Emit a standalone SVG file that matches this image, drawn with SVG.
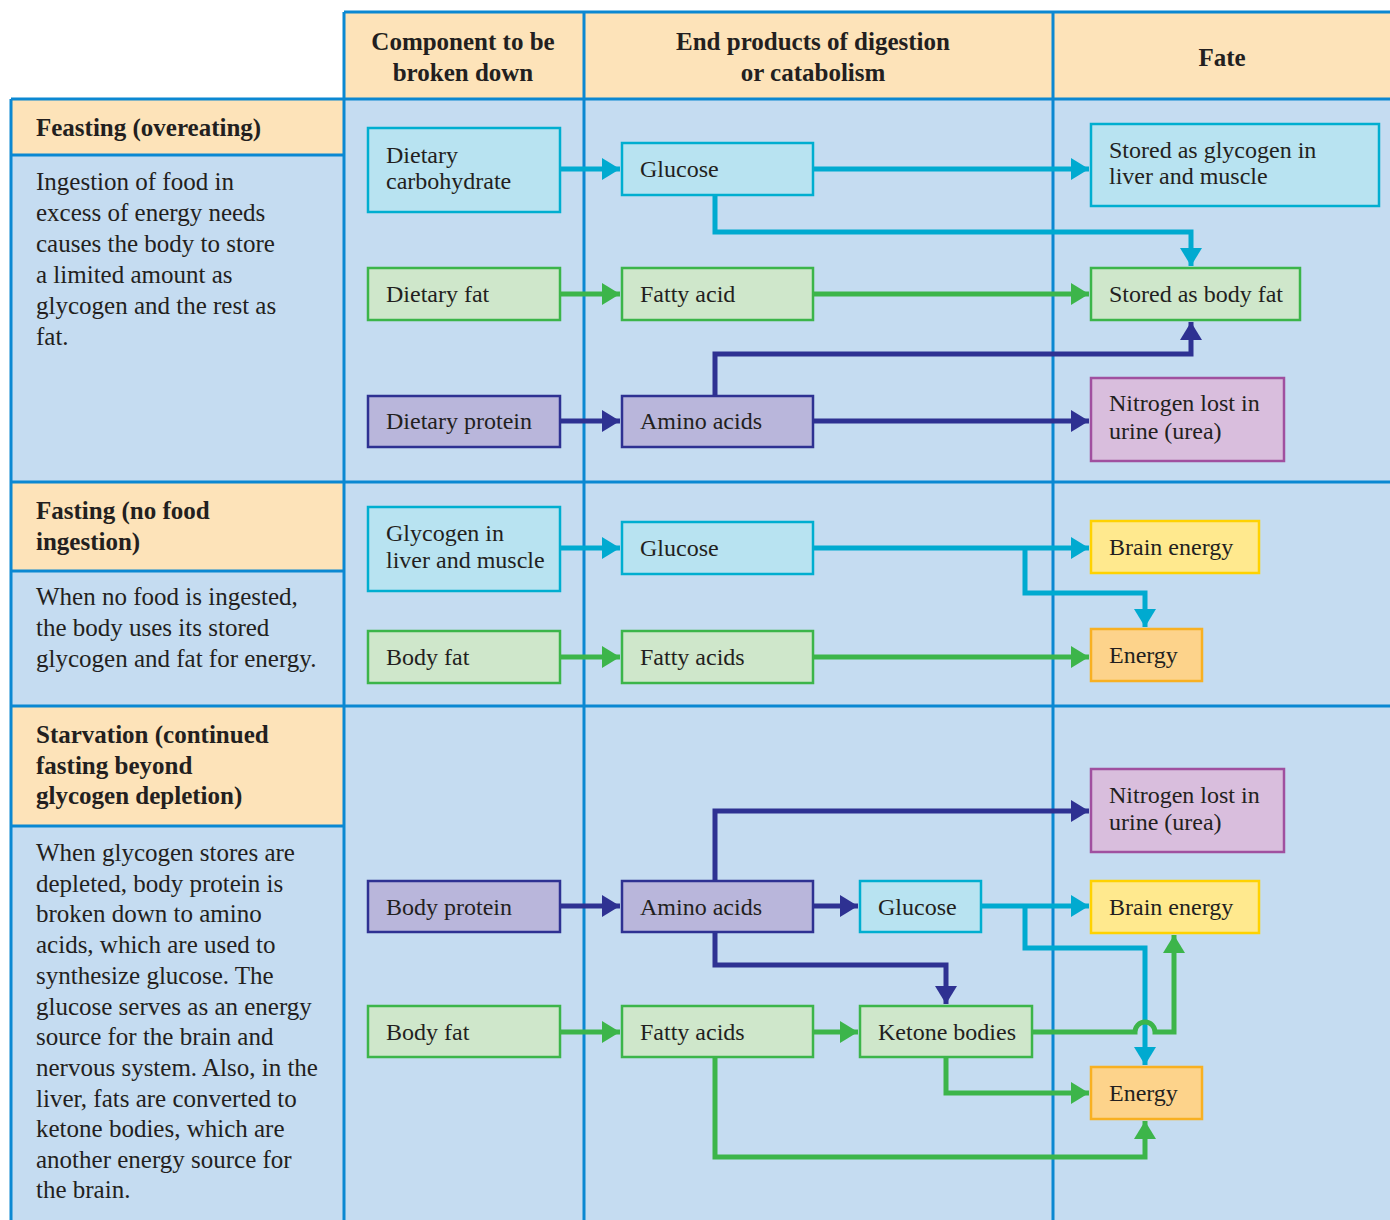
<svg xmlns="http://www.w3.org/2000/svg" width="1390" height="1220" viewBox="0 0 1390 1220">
<style>
.t{font-family:"Liberation Serif",serif;font-size:24px;fill:#231f20}
.l{font-family:"Liberation Serif",serif;font-size:25px;fill:#231f20}
.b{font-family:"Liberation Serif",serif;font-size:25px;font-weight:bold;fill:#231f20}
.grid{stroke:#0b88d2;stroke-width:3;fill:none}
.cy{fill:#b8e3f1;stroke:#00aed0;stroke-width:2.5}
.gr{fill:#cfe7cb;stroke:#3cb54a;stroke-width:2.5}
.pu{fill:#b9b6db;stroke:#2e3192;stroke-width:2.5}
.ma{fill:#d9bedd;stroke:#a0509f;stroke-width:2.5}
.ye{fill:#ffe98e;stroke:#ffd200;stroke-width:2.5}
.or{fill:#fdd38b;stroke:#f8b022;stroke-width:2.5}
.c{fill:none;stroke-width:5;stroke-linejoin:miter}
.cc{stroke:#00aad0}
.cg{stroke:#3cb54a}
.cn{stroke:#2e3192}
</style>
<defs>
<marker id="aC" markerUnits="userSpaceOnUse" markerWidth="20" markerHeight="22" refX="18" refY="11" orient="auto"><path d="M0,0 L18,11 L0,22 Z" fill="#00aad0"/></marker>
<marker id="aG" markerUnits="userSpaceOnUse" markerWidth="20" markerHeight="22" refX="18" refY="11" orient="auto"><path d="M0,0 L18,11 L0,22 Z" fill="#3cb54a"/></marker>
<marker id="aN" markerUnits="userSpaceOnUse" markerWidth="20" markerHeight="22" refX="18" refY="11" orient="auto"><path d="M0,0 L18,11 L0,22 Z" fill="#2e3192"/></marker>
</defs>
<rect width="1390" height="1220" fill="#ffffff"/>
<g id="table">
<rect x="344" y="12" width="1046" height="87" fill="#fde3b9"/>
<rect x="11" y="99" width="1379" height="1121" fill="#c5dcf1"/>
<rect x="11" y="99" width="333" height="56" fill="#fde3b9"/>
<rect x="11" y="482" width="333" height="89" fill="#fde3b9"/>
<rect x="11" y="706" width="333" height="120" fill="#fde3b9"/>
<path class="grid" d="M344,12 H1390 M11,99 H1390 M11,482 H1390 M11,706 H1390 M11,155 H344 M11,571 H344 M11,826 H344 M11,99 V1220 M344,12 V1220 M584,12 V1220 M1053,12 V1220"/>
<text class="b" x="463" y="50" text-anchor="middle">Component to be</text>
<text class="b" x="463" y="81" text-anchor="middle">broken down</text>
<text class="b" x="813" y="50" text-anchor="middle">End products of digestion</text>
<text class="b" x="813" y="81" text-anchor="middle">or catabolism</text>
<text class="b" x="1222" y="66" text-anchor="middle">Fate</text>
<text class="b" x="36" y="136">Feasting (overeating)</text>
<text class="l" x="36" y="190">Ingestion of food in</text>
<text class="l" x="36" y="221">excess of energy needs</text>
<text class="l" x="36" y="252">causes the body to store</text>
<text class="l" x="36" y="283">a limited amount as</text>
<text class="l" x="36" y="314">glycogen and the rest as</text>
<text class="l" x="36" y="345">fat.</text>
<text class="b" x="36" y="519">Fasting (no food</text>
<text class="b" x="36" y="550">ingestion)</text>
<text class="l" x="36" y="605">When no food is ingested,</text>
<text class="l" x="36" y="636">the body uses its stored</text>
<text class="l" x="36" y="667">glycogen and fat for energy.</text>
<text class="b" x="36" y="743">Starvation (continued</text>
<text class="b" x="36" y="774">fasting beyond</text>
<text class="b" x="36" y="804">glycogen depletion)</text>
<text class="l" x="36" y="861">When glycogen stores are</text>
<text class="l" x="36" y="892">depleted, body protein is</text>
<text class="l" x="36" y="922">broken down to amino</text>
<text class="l" x="36" y="953">acids, which are used to</text>
<text class="l" x="36" y="984">synthesize glucose. The</text>
<text class="l" x="36" y="1015">glucose serves as an energy</text>
<text class="l" x="36" y="1045">source for the brain and</text>
<text class="l" x="36" y="1076">nervous system. Also, in the</text>
<text class="l" x="36" y="1107">liver, fats are converted to</text>
<text class="l" x="36" y="1137">ketone bodies, which are</text>
<text class="l" x="36" y="1168">another energy source for</text>
<text class="l" x="36" y="1198">the brain.</text>
</g>
<g id="connectors">
<path class="c cc" d="M560,169 H620" marker-end="url(#aC)"/>
<path class="c cc" d="M813,169 H1089" marker-end="url(#aC)"/>
<path class="c cc" d="M715,195 V232 H1191 V266" marker-end="url(#aC)"/>
<path class="c cg" d="M560,294 H620" marker-end="url(#aG)"/>
<path class="c cg" d="M813,294 H1089" marker-end="url(#aG)"/>
<path class="c cn" d="M715,396 V354 H1191 V322" marker-end="url(#aN)"/>
<path class="c cn" d="M560,421 H620" marker-end="url(#aN)"/>
<path class="c cn" d="M813,421 H1089" marker-end="url(#aN)"/>
<path class="c cc" d="M560,548 H620" marker-end="url(#aC)"/>
<path class="c cc" d="M813,548 H1089" marker-end="url(#aC)"/>
<path class="c cc" d="M1025,548 V593 H1145 V627" marker-end="url(#aC)"/>
<path class="c cg" d="M560,657 H620" marker-end="url(#aG)"/>
<path class="c cg" d="M813,657 H1089" marker-end="url(#aG)"/>
<path class="c cn" d="M715,881 V811 H1089" marker-end="url(#aN)"/>
<path class="c cn" d="M560,906 H620" marker-end="url(#aN)"/>
<path class="c cn" d="M813,906 H858" marker-end="url(#aN)"/>
<path class="c cc" d="M981,906 H1089" marker-end="url(#aC)"/>
<path class="c cc" d="M1025,906 V948 H1145 V1065" marker-end="url(#aC)"/>
<path class="c cn" d="M715,932 V965 H946 V1004" marker-end="url(#aN)"/>
<path class="c cg" d="M560,1032 H620" marker-end="url(#aG)"/>
<path class="c cg" d="M813,1032 H858" marker-end="url(#aG)"/>
<path class="c cg" d="M1032,1032 H1135 A10,10 0 0 1 1155,1032 H1174 V935" marker-end="url(#aG)"/>
<path class="c cg" d="M946,1057 V1093 H1089" marker-end="url(#aG)"/>
<path class="c cg" d="M715,1057 V1157 H1145 V1121" marker-end="url(#aG)"/>
</g>
<g id="n-dietcarb"><rect class="cy" x="368" y="128" width="192" height="84"/><text class="t" x="386" y="163">Dietary</text><text class="t" x="386" y="189">carbohydrate</text></g>
<g id="n-glucose1"><rect class="cy" x="622" y="143" width="191" height="52"/><text class="t" x="640" y="177">Glucose</text></g>
<g id="n-storedglyc"><rect class="cy" x="1091" y="124" width="288" height="82"/><text class="t" x="1109" y="158">Stored as glycogen in</text><text class="t" x="1109" y="184">liver and muscle</text></g>
<g id="n-dietfat"><rect class="gr" x="368" y="268" width="192" height="52"/><text class="t" x="386" y="302">Dietary fat</text></g>
<g id="n-fattyacid1"><rect class="gr" x="622" y="268" width="191" height="52"/><text class="t" x="640" y="302">Fatty acid</text></g>
<g id="n-bodyfatstore"><rect class="gr" x="1091" y="268" width="209" height="52"/><text class="t" x="1109" y="302">Stored as body fat</text></g>
<g id="n-dietprot"><rect class="pu" x="368" y="396" width="192" height="51"/><text class="t" x="386" y="429">Dietary protein</text></g>
<g id="n-amino1"><rect class="pu" x="622" y="396" width="191" height="51"/><text class="t" x="640" y="429">Amino acids</text></g>
<g id="n-nitrogen1"><rect class="ma" x="1091" y="378" width="193" height="83"/><text class="t" x="1109" y="411">Nitrogen lost in</text><text class="t" x="1109" y="439">urine (urea)</text></g>
<g id="n-glycogen"><rect class="cy" x="368" y="507" width="192" height="84"/><text class="t" x="386" y="541">Glycogen in</text><text class="t" x="386" y="568">liver and muscle</text></g>
<g id="n-glucose2"><rect class="cy" x="622" y="522" width="191" height="52"/><text class="t" x="640" y="556">Glucose</text></g>
<g id="n-brain1"><rect class="ye" x="1091" y="521" width="168" height="52"/><text class="t" x="1109" y="555">Brain energy</text></g>
<g id="n-bodyfat2"><rect class="gr" x="368" y="631" width="192" height="52"/><text class="t" x="386" y="665">Body fat</text></g>
<g id="n-fattyacids2"><rect class="gr" x="622" y="631" width="191" height="52"/><text class="t" x="640" y="665">Fatty acids</text></g>
<g id="n-energy1"><rect class="or" x="1091" y="629" width="111" height="52"/><text class="t" x="1109" y="663">Energy</text></g>
<g id="n-nitrogen2"><rect class="ma" x="1091" y="769" width="193" height="83"/><text class="t" x="1109" y="803">Nitrogen lost in</text><text class="t" x="1109" y="830">urine (urea)</text></g>
<g id="n-bodyprot"><rect class="pu" x="368" y="881" width="192" height="51"/><text class="t" x="386" y="915">Body protein</text></g>
<g id="n-amino3"><rect class="pu" x="622" y="881" width="191" height="51"/><text class="t" x="640" y="915">Amino acids</text></g>
<g id="n-glucose3"><rect class="cy" x="860" y="881" width="121" height="51"/><text class="t" x="878" y="915">Glucose</text></g>
<g id="n-brain3"><rect class="ye" x="1091" y="881" width="168" height="52"/><text class="t" x="1109" y="915">Brain energy</text></g>
<g id="n-bodyfat3"><rect class="gr" x="368" y="1006" width="192" height="51"/><text class="t" x="386" y="1040">Body fat</text></g>
<g id="n-fattyacids3"><rect class="gr" x="622" y="1006" width="191" height="51"/><text class="t" x="640" y="1040">Fatty acids</text></g>
<g id="n-ketone"><rect class="gr" x="860" y="1006" width="172" height="51"/><text class="t" x="878" y="1040">Ketone bodies</text></g>
<g id="n-energy3"><rect class="or" x="1091" y="1067" width="111" height="52"/><text class="t" x="1109" y="1101">Energy</text></g>
</svg>
